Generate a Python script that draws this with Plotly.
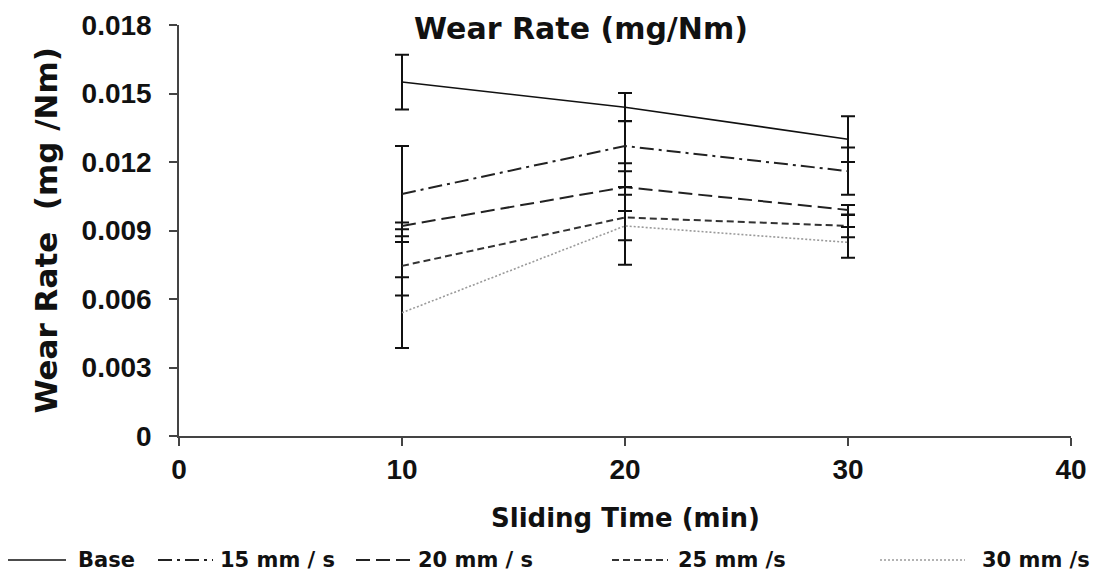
import plotly.graph_objects as go

# Sliding time (min)
sliding_time = [10, 20, 30]

# Wear rate (mg/Nm) per sliding speed
base = [0.0155, 0.0144, 0.0130]
speed_15 = [0.0106, 0.0127, 0.0116]
speed_20 = [0.0092, 0.0109, 0.0099]
speed_25 = [0.00745, 0.00957, 0.0092]
speed_30 = [0.0054, 0.0092, 0.00848]

# Standard deviations
base_err = [0.0012, 0.00062, 0.0010]
speed_15_err = [0.0021, 0.0011, 0.00103]
speed_20_err = [0.00015, 0.00105, 0.00022]
speed_25_err = [0.0013, 0.0010, 0.0005]
speed_30_err = [0.00155, 0.0017, 0.00067]

series_names = ["Base", "15 mm / s", "20 mm / s", "25 mm /s", "30 mm /s"]

x_ticks = [0, 10, 20, 30, 40]
y_ticks = [0, 0.003, 0.006, 0.009, 0.012, 0.015, 0.018]

series = [base, speed_15, speed_20, speed_25, speed_30]
errors = [base_err, speed_15_err, speed_20_err, speed_25_err, speed_30_err]
styles = [
    dict(color="#111111", width=1.6, dash="solid"),
    dict(color="#222222", width=2, dash="14px,5px,3px,5px"),
    dict(color="#222222", width=2, dash="14px,6px"),
    dict(color="#333333", width=2, dash="7px,4px"),
    dict(color="#9a9a9a", width=1.6, dash="2px,2px"),
]

fig = go.Figure()
for name, ys, err, st in zip(series_names, series, errors, styles):
    fig.add_trace(go.Scatter(
        x=sliding_time, y=ys, name=name, mode="lines",
        line=st, showlegend=False,
        error_y=dict(type="data", array=err, visible=True,
                     color="#111111", thickness=2, width=7),
    ))

tick_font = "Liberation Sans, Arial, sans-serif"
label_font = "DejaVu Sans, Verdana, sans-serif"

# plot area: x 179..1071 px, y 25..436 px
L, R, T, B = 179, 30, 25, 143
W, H = 1101, 579
pw, ph = W - L - R, H - T - B


def px_x(px):
    return (px - L) / pw


def px_y(py):
    return (H - B - py) / ph


# Key row along the bottom: line sample start/end and text start (px)
key_y = 560
key_slots = [(8, 66, 76), (158, 213, 218), (356, 410, 416), (612, 668, 676), (880, 965, 980)]

shapes = []
annotations = []
for name, st, (x0, x1, tx) in zip(series_names, styles, key_slots):
    shapes.append(dict(type="line", xref="paper", yref="paper",
                       x0=px_x(x0), x1=px_x(x1), y0=px_y(key_y), y1=px_y(key_y),
                       line=dict(color=st["color"], width=st["width"], dash=st["dash"])))
    annotations.append(dict(text=f"<b>{name}</b>", xref="paper", yref="paper",
                            x=px_x(tx), y=px_y(key_y), xanchor="left", yanchor="middle",
                            showarrow=False,
                            font=dict(size=21, family=label_font, color="#111111")))

annotations += [
    dict(text="<b>Sliding Time (min)</b>", xref="paper", yref="paper",
         x=px_x(625), y=px_y(518), xanchor="center", yanchor="middle",
         showarrow=False, font=dict(size=26, family=label_font, color="#111111")),
    dict(text="<b>Wear Rate  (mg /Nm)</b>", xref="paper", yref="paper",
         x=px_x(45), y=0.5, xanchor="center", yanchor="middle", textangle=-90,
         showarrow=False, font=dict(size=31, family=label_font, color="#111111")),
]

fig.update_layout(
    width=W, height=H,
    margin=dict(l=L, r=R, t=T, b=B, autoexpand=False),
    paper_bgcolor="white", plot_bgcolor="white",
    font=dict(family=tick_font, color="#111111"),
    title=dict(text="<b>Wear Rate (mg/Nm)</b>", x=581 / W, xref="container",
               xanchor="center", y=1 - 28 / H, yref="container", yanchor="middle",
               font=dict(size=30, color="#111111", family=label_font)),
    xaxis=dict(
        range=[0, 40], tickvals=x_ticks, ticktext=[f"<b>{v}</b>" for v in x_ticks],
        showline=True, linecolor="#444444", linewidth=1.5,
        ticks="outside", ticklen=8, tickwidth=1.5, tickcolor="#444444",
        showgrid=False, zeroline=False, automargin=False,
        tickfont=dict(size=28),
    ),
    yaxis=dict(
        range=[0, 0.018], tickvals=y_ticks,
        ticktext=[f"<b>{'0' if v == 0 else f'{v:.3f}'}</b>" for v in y_ticks],
        showline=True, linecolor="#444444", linewidth=1.5,
        ticks="outside", ticklen=8, tickwidth=1.5, tickcolor="#444444",
        showgrid=False, zeroline=False, automargin=False,
        tickfont=dict(size=28), ticklabelstandoff=12,
    ),
    showlegend=False,
    shapes=shapes,
    annotations=annotations,
)

fig.write_html("out.html")
